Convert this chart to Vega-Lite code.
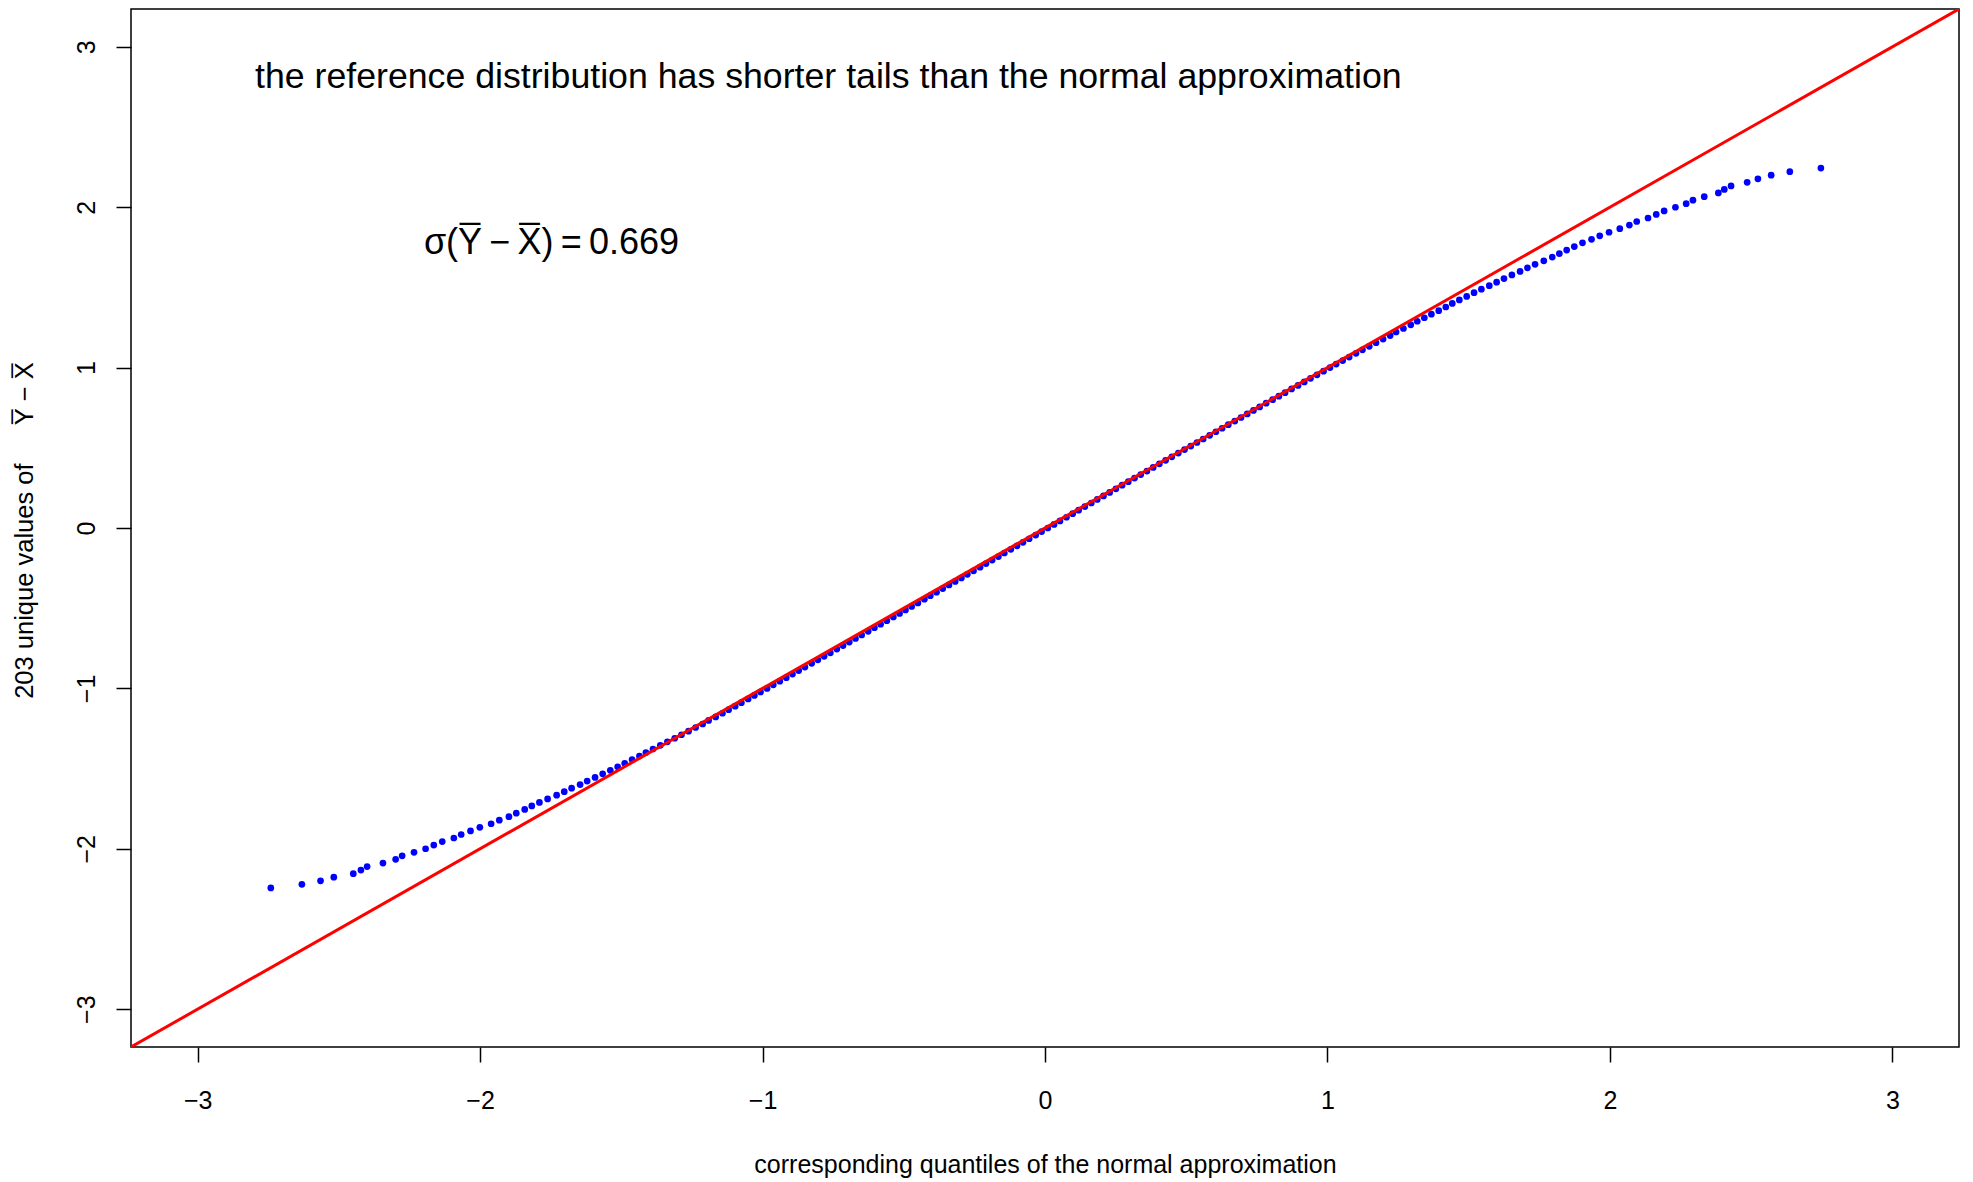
{
  "$schema": "https://vega.github.io/schema/vega-lite/v6.json",
  "width": 1828,
  "height": 1038,
  "autosize": {"type": "none"},
  "padding": {"left": 131, "top": 9, "right": 14, "bottom": 135},
  "background": "white",
  "config": {
    "view": {"stroke": "black", "strokeWidth": 1.5},
    "font": "Liberation Sans"
  },
  "layer": [
    {
      "data": {"values": [
        {"q":-2.741,"v":-2.244},{"q":-2.631,"v":-2.222},{"q":-2.565,"v":-2.200},{"q":-2.518,"v":-2.177},{"q":-2.449,"v":-2.155},{"q":-2.422,"v":-2.133},{"q":-2.400,"v":-2.111},{"q":-2.344,"v":-2.089},{"q":-2.299,"v":-2.066},{"q":-2.276,"v":-2.044},
        {"q":-2.234,"v":-2.022},{"q":-2.193,"v":-2.000},{"q":-2.164,"v":-1.977},{"q":-2.134,"v":-1.955},{"q":-2.093,"v":-1.933},{"q":-2.067,"v":-1.911},{"q":-2.034,"v":-1.889},{"q":-2.001,"v":-1.866},{"q":-1.961,"v":-1.844},{"q":-1.932,"v":-1.822},
        {"q":-1.898,"v":-1.800},{"q":-1.872,"v":-1.778},{"q":-1.842,"v":-1.755},{"q":-1.817,"v":-1.733},{"q":-1.790,"v":-1.711},{"q":-1.761,"v":-1.689},{"q":-1.729,"v":-1.666},{"q":-1.702,"v":-1.644},{"q":-1.676,"v":-1.622},{"q":-1.646,"v":-1.600},
        {"q":-1.621,"v":-1.578},{"q":-1.593,"v":-1.555},{"q":-1.566,"v":-1.533},{"q":-1.539,"v":-1.511},{"q":-1.513,"v":-1.489},{"q":-1.488,"v":-1.467},{"q":-1.462,"v":-1.444},{"q":-1.436,"v":-1.422},{"q":-1.413,"v":-1.400},{"q":-1.388,"v":-1.378},
        {"q":-1.362,"v":-1.355},{"q":-1.337,"v":-1.333},{"q":-1.311,"v":-1.311},{"q":-1.287,"v":-1.289},{"q":-1.262,"v":-1.267},{"q":-1.237,"v":-1.244},{"q":-1.212,"v":-1.222},{"q":-1.191,"v":-1.200},
        {"q":-1.166,"v":-1.178},{"q":-1.142,"v":-1.155},{"q":-1.120,"v":-1.133},{"q":-1.097,"v":-1.111},{"q":-1.075,"v":-1.089},{"q":-1.051,"v":-1.066},{"q":-1.029,"v":-1.044},{"q":-1.007,"v":-1.022},{"q":-0.984,"v":-1.000},{"q":-0.962,"v":-0.978},
        {"q":-0.939,"v":-0.955},{"q":-0.916,"v":-0.933},{"q":-0.894,"v":-0.911},{"q":-0.872,"v":-0.889},{"q":-0.850,"v":-0.867},{"q":-0.826,"v":-0.844},{"q":-0.804,"v":-0.822},{"q":-0.782,"v":-0.800},{"q":-0.760,"v":-0.778},{"q":-0.737,"v":-0.755},
        {"q":-0.715,"v":-0.733},{"q":-0.693,"v":-0.711},{"q":-0.671,"v":-0.689},{"q":-0.649,"v":-0.667},{"q":-0.626,"v":-0.644},{"q":-0.604,"v":-0.622},{"q":-0.582,"v":-0.600},{"q":-0.560,"v":-0.578},{"q":-0.537,"v":-0.555},{"q":-0.515,"v":-0.533},
        {"q":-0.494,"v":-0.511},{"q":-0.472,"v":-0.489},{"q":-0.450,"v":-0.467},{"q":-0.427,"v":-0.444},{"q":-0.406,"v":-0.422},{"q":-0.384,"v":-0.400},{"q":-0.362,"v":-0.378},{"q":-0.340,"v":-0.355},{"q":-0.318,"v":-0.333},{"q":-0.296,"v":-0.311},
        {"q":-0.275,"v":-0.289},{"q":-0.253,"v":-0.267},{"q":-0.230,"v":-0.244},{"q":-0.209,"v":-0.222},{"q":-0.187,"v":-0.200},{"q":-0.165,"v":-0.178},{"q":-0.144,"v":-0.156},{"q":-0.121,"v":-0.133},{"q":-0.099,"v":-0.111},{"q":-0.078,"v":-0.089},
        {"q":-0.056,"v":-0.067},{"q":-0.033,"v":-0.044},{"q":-0.012,"v":-0.022},{"q":0.010,"v":0.000},{"q":0.032,"v":0.022},{"q":0.053,"v":0.044},{"q":0.076,"v":0.067},{"q":0.098,"v":0.089},{"q":0.119,"v":0.111},{"q":0.141,"v":0.133},
        {"q":0.164,"v":0.156},{"q":0.185,"v":0.178},{"q":0.207,"v":0.200},{"q":0.229,"v":0.222},{"q":0.251,"v":0.244},{"q":0.273,"v":0.267},{"q":0.295,"v":0.289},{"q":0.317,"v":0.311},{"q":0.339,"v":0.333},{"q":0.361,"v":0.355},
        {"q":0.383,"v":0.378},{"q":0.405,"v":0.400},{"q":0.427,"v":0.422},{"q":0.449,"v":0.444},{"q":0.472,"v":0.467},{"q":0.494,"v":0.489},{"q":0.516,"v":0.511},{"q":0.538,"v":0.533},{"q":0.560,"v":0.555},{"q":0.583,"v":0.578},
        {"q":0.605,"v":0.600},{"q":0.627,"v":0.622},{"q":0.649,"v":0.644},{"q":0.672,"v":0.667},{"q":0.694,"v":0.689},{"q":0.716,"v":0.711},{"q":0.738,"v":0.733},{"q":0.760,"v":0.755},{"q":0.783,"v":0.778},{"q":0.806,"v":0.800},
        {"q":0.828,"v":0.822},{"q":0.850,"v":0.844},{"q":0.873,"v":0.867},{"q":0.896,"v":0.889},{"q":0.918,"v":0.911},{"q":0.940,"v":0.933},{"q":0.963,"v":0.955},{"q":0.986,"v":0.978},{"q":1.009,"v":1.000},{"q":1.031,"v":1.022},
        {"q":1.054,"v":1.044},{"q":1.077,"v":1.066},{"q":1.101,"v":1.089},{"q":1.124,"v":1.111},{"q":1.148,"v":1.133},{"q":1.172,"v":1.155},{"q":1.197,"v":1.178},
        {"q":1.222,"v":1.200},{"q":1.243,"v":1.222},{"q":1.269,"v":1.244},{"q":1.295,"v":1.267},{"q":1.318,"v":1.289},{"q":1.343,"v":1.311},{"q":1.368,"v":1.333},{"q":1.394,"v":1.355},{"q":1.419,"v":1.378},{"q":1.442,"v":1.400},
        {"q":1.467,"v":1.422},{"q":1.493,"v":1.444},{"q":1.519,"v":1.467},{"q":1.545,"v":1.489},{"q":1.573,"v":1.511},{"q":1.599,"v":1.533},{"q":1.625,"v":1.555},{"q":1.653,"v":1.578},{"q":1.682,"v":1.600},{"q":1.708,"v":1.622},
        {"q":1.735,"v":1.644},{"q":1.766,"v":1.666},{"q":1.796,"v":1.689},{"q":1.821,"v":1.711},{"q":1.847,"v":1.733},{"q":1.874,"v":1.755},{"q":1.903,"v":1.778},{"q":1.935,"v":1.800},{"q":1.964,"v":1.822},{"q":1.997,"v":1.844},
        {"q":2.035,"v":1.866},{"q":2.069,"v":1.889},{"q":2.095,"v":1.911},{"q":2.135,"v":1.933},{"q":2.164,"v":1.955},{"q":2.192,"v":1.977},{"q":2.232,"v":2.000},{"q":2.270,"v":2.022},{"q":2.294,"v":2.044},{"q":2.334,"v":2.066},
        {"q":2.384,"v":2.089},{"q":2.405,"v":2.111},{"q":2.429,"v":2.133},{"q":2.486,"v":2.155},{"q":2.524,"v":2.177},{"q":2.571,"v":2.200},{"q":2.637,"v":2.222},{"q":2.747,"v":2.244}
      ]},
      "mark": {"type": "point", "filled": true, "color": "#0000ff", "size": 45, "opacity": 1, "shape": "circle"},
      "encoding": {
        "x": {
          "field": "q", "type": "quantitative",
          "scale": {"domain": [-3.236, 3.236], "nice": false, "zero": false},
          "axis": {
            "values": [-3, -2, -1, 0, 1, 2, 3], "format": "d",
            "grid": false, "domain": false,
            "tickSize": 15, "tickWidth": 1.5, "tickColor": "black",
            "labelFontSize": 25, "labelColor": "black", "labelPadding": 26,
            "labelBaseline": "top", "labelFlush": false,
            "title": "corresponding quantiles of the normal approximation",
            "titleFontSize": 25, "titleFontWeight": "normal", "titleColor": "black",
            "titleBaseline": "alphabetic", "titleY": 125
          }
        },
        "y": {
          "field": "v", "type": "quantitative",
          "scale": {"domain": [-3.236, 3.236], "nice": false, "zero": false},
          "axis": {
            "values": [-3, -2, -1, 0, 1, 2, 3], "format": "d",
            "grid": false, "domain": false,
            "tickSize": 15, "tickWidth": 1.5, "tickColor": "black",
            "labelFontSize": 25, "labelColor": "black", "labelPadding": 22,
            "labelAngle": -90, "labelAlign": "center", "labelBaseline": "alphabetic", "labelFlush": false,
            "title": "203 unique values of\u2003\u2002Y\u0305 \u2212 X\u0305",
            "titleFontSize": 25.5, "titleFontWeight": "normal", "titleColor": "black",
            "titleAngle": -90, "titleBaseline": "alphabetic", "titleAlign": "center",
            "titleX": -99, "titleY": 521
          }
        }
      }
    },
    {
      "data": {"values": [{}]},
      "mark": {"type": "rule", "color": "#ff0000", "strokeWidth": 3, "clip": true},
      "encoding": {
        "x": {"datum": -3.236, "type": "quantitative"},
        "y": {"datum": -3.236, "type": "quantitative"},
        "x2": {"datum": 3.236},
        "y2": {"datum": 3.236}
      }
    },
    {
      "data": {"values": [{}]},
      "mark": {"type": "text", "fontSize": 35.7, "align": "left", "baseline": "alphabetic", "color": "black", "font": "Liberation Sans"},
      "encoding": {
        "x": {"datum": -2.797, "type": "quantitative"},
        "y": {"datum": 2.744, "type": "quantitative"},
        "text": {"value": "the reference distribution has shorter tails than the normal approximation"}
      }
    },
    {
      "data": {"values": [{}]},
      "mark": {"type": "text", "fontSize": 36, "align": "left", "baseline": "alphabetic", "color": "black", "font": "Liberation Sans"},
      "encoding": {
        "x": {"datum": -2.199, "type": "quantitative"},
        "y": {"datum": 1.71, "type": "quantitative"},
        "text": {"value": "σ(Y\u0305\u2009\u2212\u2009X\u0305)\u2009=\u20090.669"}
      }
    }
  ]
}
